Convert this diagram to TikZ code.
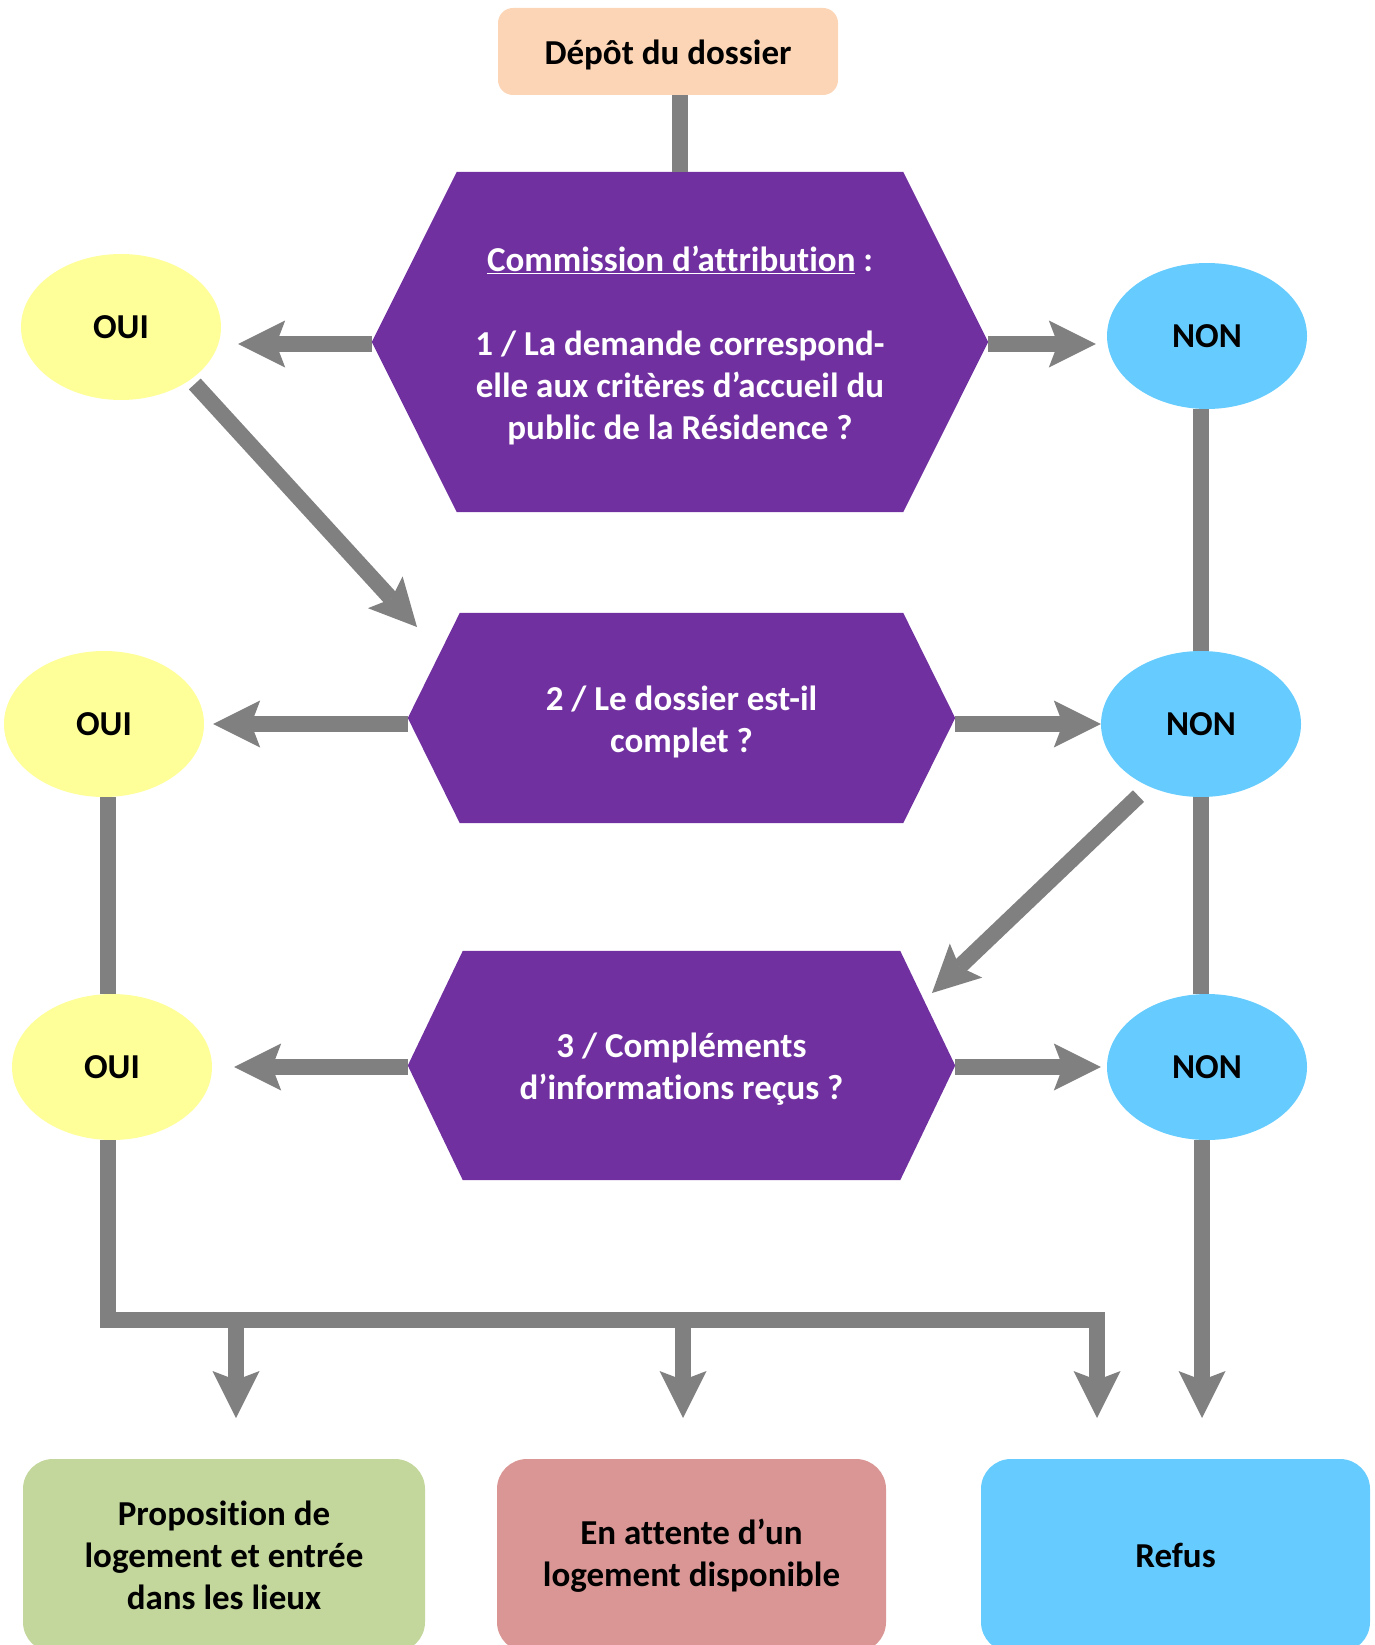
\documentclass[tikz,border=0pt]{standalone}
\usepackage{fontspec}
\setmainfont{Carlito}[Ligatures=NoCommon]
\usetikzlibrary{arrows.meta,calc,shapes.geometric,backgrounds}
\definecolor{peach}{HTML}{FBD5B5}
\definecolor{violetc}{HTML}{7030A0}
\definecolor{yel}{HTML}{FFFF99}
\definecolor{sky}{HTML}{66CCFF}
\definecolor{greenc}{HTML}{C3D69B}
\definecolor{pinkc}{HTML}{D99694}
\definecolor{grayc}{HTML}{808080}
\newcommand{\hexfill}[2]{%
  \fill[violetc] (#1.west) -- ($(#1.north west)+(#2,0)$) -- ($(#1.north east)+(-#2,0)$) -- (#1.east) -- ($(#1.south east)+(-#2,0)$) -- ($(#1.south west)+(#2,0)$) -- cycle;}
\begin{document}
\begin{tikzpicture}[x=1pt,y=-1pt,
  txt/.style={font=\bfseries\fontsize{35}{42}\selectfont, align=center, inner sep=0pt},
  hexbox/.style={inner sep=0pt},
  hextxt/.style={txt, text=white},
  oval/.style={ellipse, txt, minimum width=200pt, minimum height=146pt},
  rbox/.style={rounded corners=30pt, txt},
  conn/.style={draw=grayc, line width=16pt},
  arr/.style={conn, -{Stealth[length=47pt,width=47pt,inset=9pt,line width=0pt]}},
]
\useasboundingbox (0,0) rectangle (1374,1645);
\clip (0,0) rectangle (1374,1645);

% boxes
\node[rbox, fill=peach, rounded corners=15pt, minimum width=340pt, minimum height=87pt, text height=33pt, text depth=7pt] (dep) at (668,51.5) {Dépôt du dossier};
\node[rbox, fill=greenc, minimum width=402pt, minimum height=193pt] (prop) at (224,1555.5) {Proposition de\\logement et entrée\\dans les lieux};
\node[rbox, fill=pinkc, minimum width=389pt, minimum height=193pt] (att) at (691.5,1555.5) {En attente d’un\\logement disponible};
\node[rbox, fill=sky, minimum width=389pt, minimum height=193pt] (ref) at (1175.5,1555.5) {Refus};

% hexagons
\node[hexbox, minimum width=616pt, minimum height=340pt] (h1) at (680,342) {};
\node[hexbox, minimum width=547pt, minimum height=210pt] (h2) at (681.5,718) {};
\node[hexbox, minimum width=547pt, minimum height=229pt] (h3) at (681.5,1065.5) {};
\begin{scope}[on background layer]
\hexfill{h1}{85}
\hexfill{h2}{52}
\hexfill{h3}{55}
\end{scope}
\node[hextxt] (h1t) at ($(h1)+(0,4)$) {\underline{Commission d’attribution} :\\[42pt]1 / La demande correspond-\\elle aux critères d’accueil du\\public de la Résidence ?};
\node[hextxt] (h2t) at ($(h2)+(0,4)$) {2 / Le dossier est-il\\complet ?};
\node[hextxt] (h3t) at ($(h3)+(0,4)$) {3 / Compléments\\d’informations reçus ?};

% ovals
\node[oval, fill=yel] (oui1) at (121,327) {OUI};
\node[oval, fill=sky] (non1) at (1207,336) {NON};
\node[oval, fill=yel] (oui2) at (104,724) {OUI};
\node[oval, fill=sky] (non2) at (1201,724) {NON};
\node[oval, fill=yel] (oui3) at (112,1067) {OUI};
\node[oval, fill=sky] (non3) at (1207,1067) {NON};

% named free ends
\coordinate (d1) at (417,627);
\coordinate (d2) at (932,993);
\coordinate (cL) at (107.5,1320);
\coordinate (cR) at (1097,1320);
\coordinate (t1) at (236,1418);
\coordinate (t2) at (683,1418);
\coordinate (t3) at (1097,1418);
\coordinate (t4) at (1202,1418);

% connectors
\draw[conn] (h1.north |- dep.south) -- (h1.north);
\draw[arr, shorten >=17pt] ([yshift=-2pt]h1.west) -- ([yshift=-2pt]h1.west -| oui1.east);
\draw[arr, shorten >=11pt] ([yshift=-2pt]h1.east) -- ([yshift=-2pt]h1.east -| non1.west);
\draw[arr, shorten <=6pt] (oui1.-37) -- (d1);
\draw[conn] (non2.north |- non1.south) -- (non2.north);
\draw[arr, shorten >=9pt] ([yshift=-6pt]h2.west) -- ([yshift=-6pt]h2.west -| oui2.east);
\draw[arr] ([yshift=-6pt]h2.east) -- ([yshift=-6pt]h2.east -| non2.west);
\draw[arr, shorten <=14pt] (non2.-130) -- (d2);
\draw[conn] (oui2.south -| cL) -- (oui3.north -| cL);
\draw[conn] (non2.south) -- (non2.south |- non3.north);
\draw[arr, shorten >=22pt] ([yshift=-1.5pt]h3.west) -- ([yshift=-1.5pt]h3.west -| oui3.east);
\draw[arr, shorten >=6pt] ([yshift=-1.5pt]h3.east) -- ([yshift=-1.5pt]h3.east -| non3.west);
\draw[arr] (oui3.south -| cL) -- (cL) -- (cR) -- (t3);
\draw[arr] (t1 |- cL) -- (t1);
\draw[arr] (t2 |- cL) -- (t2);
\draw[arr] (non3.south -| t4) -- (t4);
\end{tikzpicture}
\end{document}
